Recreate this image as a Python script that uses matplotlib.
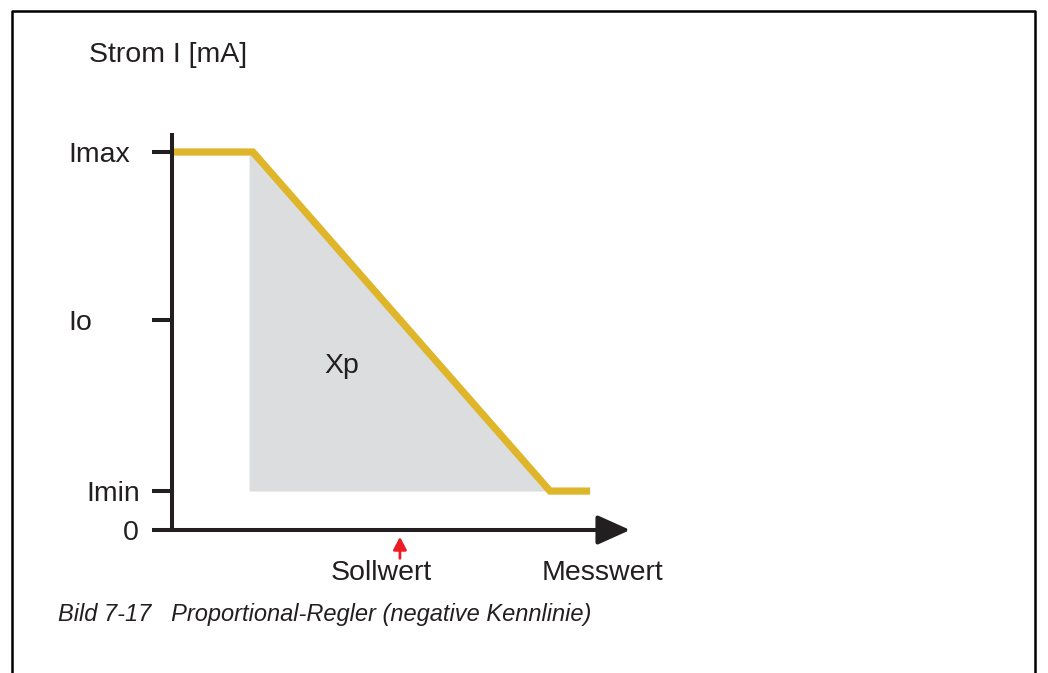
import matplotlib.pyplot as plt
from matplotlib.lines import Line2D

plt.rcParams["font.family"] = ["Liberation Sans", "DejaVu Sans"]

# characteristic curve (Messwert in arbitrary units, current in arbitrary units)
curve_x = [0.0, 2.14, 10.0, 11.06]
curve_y = [20.0, 20.0, 2.06, 2.06]

# shaded proportional band Xp
band_x = [2.04, 2.14, 10.0]
band_top = [20.0, 20.0, 2.06]
band_bottom = 2.06

tick_values = [0.0, 2.06, 11.1, 20.0]
tick_labels = ["0", "Imin", "Io", "Imax"]
sollwert_x = 6.03
axis_end = 12.12

ink = "#231f20"
yellow = "#dfb52a"
grey = "#dcdddf"

fig = plt.figure(figsize=(10.48, 6.73), dpi=100)
ax = fig.add_axes([172 / 1048, 143 / 673, 453.6 / 1048, 396.9 / 673])
ax.set_xlim(0, 12)
ax.set_ylim(0, 21)
for s in ax.spines.values():
    s.set_visible(False)
ax.set_xticks([])
ax.set_yticks(tick_values)
ax.set_yticklabels([])
ax.tick_params(axis="y", length=14.4, width=2.9, color=ink, direction="out")

ax.fill_between(band_x, band_top, band_bottom, color=grey, lw=0, zorder=1)
ax.plot(curve_x, curve_y, color=yellow, lw=5.2, solid_capstyle="butt",
        solid_joinstyle="miter", zorder=3)

# axes lines
ax.plot([0, 0], [0, 21], color=ink, lw=2.9, clip_on=False, zorder=4,
        solid_capstyle="butt")
ax.annotate("", xy=(axis_end, 0), xytext=(-0.05, 0),
            arrowprops=dict(arrowstyle="-|>,head_length=1.0,head_width=0.45",
                            mutation_scale=20, color=ink, lw=2.9,
                            shrinkA=0, shrinkB=0),
            annotation_clip=False, zorder=4)

# tick labels with their own alignment
label_pos = {"0": (-0.88, "right"), "Imin": (-0.85, "right"),
             "Io": (-2.75, "left"), "Imax": (-2.75, "left")}
for v, lab in zip(tick_values, tick_labels):
    xx, ha = label_pos[lab]
    ax.text(xx, v - 0.15, lab, ha=ha, va="center", fontsize=20.5, color=ink,
            clip_on=False)

# Sollwert marker
ax.annotate("", xy=(sollwert_x, -0.36), xytext=(sollwert_x, -1.5),
            arrowprops=dict(arrowstyle="-|>,head_length=0.38,head_width=0.2",
                            mutation_scale=20, color="#ed1c24", lw=2.0,
                            shrinkA=0, shrinkB=0),
            annotation_clip=False)
ax.text(5.55, -2.3, "Sollwert", ha="center", va="center", fontsize=20.5,
        color=ink, clip_on=False)
ax.text(11.4, -2.3, "Messwert", ha="center", va="center", fontsize=20.5,
        color=ink, clip_on=False)
ax.text(4.5, 8.7, "Xp", ha="center", va="center", fontsize=20.5, color=ink)

fig.text(89 / 1048, 1 - 55 / 673, "Strom I [mA]", ha="left", va="center",
         fontsize=20.5, color=ink)
fig.text(58 / 1048, 1 - 615 / 673,
         "Bild 7-17   Proportional-Regler (negative Kennlinie)",
         ha="left", va="center", fontsize=17, style="italic", color=ink)

# page frame (open at the bottom)
frame_x = [12 / 1048, 12 / 1048, 1035 / 1048, 1035 / 1048]
frame_y = [0, 1 - 11 / 673, 1 - 11 / 673, 0]
fig.add_artist(Line2D(frame_x, frame_y, color="black", lw=1.8,
                      transform=fig.transFigure))

fig.savefig("out.png", dpi=100)
